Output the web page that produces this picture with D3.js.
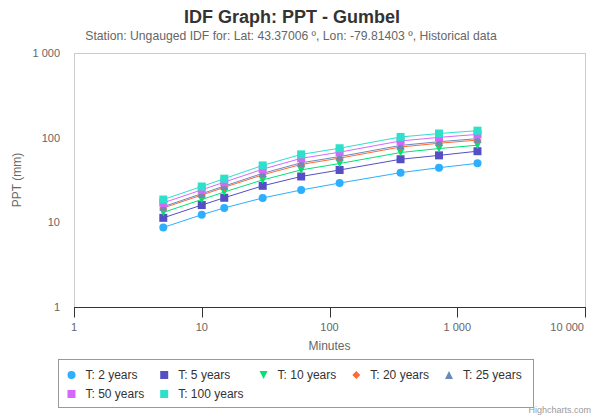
<!DOCTYPE html>
<html>
<head>
<meta charset="utf-8">
<script src="https://cdn.jsdelivr.net/npm/d3@7"></script>
<style>
  body { margin: 0; background: #fff; }
  svg { font-family: "Liberation Sans", Arial, Helvetica, sans-serif; }
</style>
</head>
<body>
<div class="chart"></div>
<script>
var svgWidth = 594;
var svgHeight = 416;

// durations in minutes
var durations = [5, 10, 15, 30, 60, 120, 360, 720, 1440];

// depth (mm) for each return period
var t2   = [8.7, 12.3, 14.8, 19.4, 24.1, 29.1, 38.6, 44.2, 49.8];
var t5   = [11.3, 16.0, 19.5, 27.0, 34.8, 41.5, 55.6, 61.8, 69.2];
var t10  = [13.1, 18.6, 22.8, 31.7, 41.6, 49.5, 66.8, 74.4, 81.5];
var t20  = [14.8, 21.0, 25.9, 36.4, 48.3, 57.3, 77.6, 85.9, 93.6];
var t25  = [15.3, 21.8, 26.8, 37.9, 50.5, 59.8, 81.0, 89.6, 97.4];
var t50  = [17.0, 24.2, 29.8, 42.4, 57.0, 67.4, 91.5, 100.8, 109.3];
var t100 = [18.6, 26.5, 32.8, 47.0, 63.5, 75.0, 102.0, 112.0, 121.0];

var seriesNames = ["T: 2 years", "T: 5 years", "T: 10 years", "T: 20 years", "T: 25 years", "T: 50 years", "T: 100 years"];
var seriesColors = ["#2caffe", "#544fc5", "#00e272", "#fe6a35", "#6b8abc", "#d568fb", "#2ee0ca"];
var seriesSymbols = ["circle", "square", "triangle-down", "diamond", "triangle", "square", "square"];
var seriesValues = [t2, t5, t10, t20, t25, t50, t100];

var xTicks = [1, 10, 100, 1000, 10000];
var yTicks = [1, 10, 100, 1000];

var plot = {left: 74, right: 585, top: 53, bottom: 307};

var fmt = function(v) { return d3.format(",")(v).replace(/,/g, " "); };

var svg = d3.select(".chart")
  .append("svg")
  .attr("width", svgWidth)
  .attr("height", svgHeight);

var xScale = d3.scaleLog().domain([1, 10000]).range([plot.left, plot.right]);
var yScale = d3.scaleLog().domain([1, 1000]).range([plot.bottom, plot.top]);

// titles
svg.append("text")
  .attr("x", 292).attr("y", 23)
  .attr("text-anchor", "middle")
  .attr("font-size", 18).attr("font-weight", "bold")
  .attr("fill", "#333")
  .text("IDF Graph: PPT - Gumbel");

svg.append("text")
  .attr("x", 291).attr("y", 40)
  .attr("text-anchor", "middle")
  .attr("font-size", 12.2)
  .attr("fill", "#666")
  .text("Station: Ungauged IDF for: Lat: 43.37006 º, Lon: -79.81403 º, Historical data");

// plot border
svg.append("rect")
  .attr("x", plot.left + 0.5).attr("y", plot.top + 0.5)
  .attr("width", plot.right - plot.left)
  .attr("height", plot.bottom - plot.top)
  .attr("fill", "none")
  .attr("stroke", "#cccccc");

// x axis
var xAxis = svg.append("g").attr("transform", "translate(0," + (plot.bottom + 0.5) + ")");
xAxis.append("line")
  .attr("x1", plot.left).attr("x2", plot.right + 1)
  .attr("stroke", "#333");
xAxis.selectAll("line.tick")
  .data(xTicks)
  .enter()
  .append("line")
  .attr("class", "tick")
  .attr("x1", d => Math.round(xScale(d)) + 0.5)
  .attr("x2", d => Math.round(xScale(d)) + 0.5)
  .attr("y1", 0).attr("y2", 10)
  .attr("stroke", "#333");
xAxis.selectAll("text")
  .data(xTicks)
  .enter()
  .append("text")
  .attr("x", (d, i) => i == xTicks.length - 1 ? xScale(d) - 1 : xScale(d))
  .attr("y", 23.5)
  .attr("text-anchor", (d, i) => i == xTicks.length - 1 ? "end" : "middle")
  .attr("font-size", 11)
  .attr("fill", "#666")
  .text(d => fmt(d));

svg.append("text")
  .attr("x", (plot.left + plot.right) / 2).attr("y", 350)
  .attr("text-anchor", "middle")
  .attr("font-size", 12)
  .attr("fill", "#666")
  .text("Minutes");

// y axis labels
svg.append("g").selectAll("text")
  .data(yTicks)
  .enter()
  .append("text")
  .attr("x", 60)
  .attr("y", d => yScale(d) + 4)
  .attr("text-anchor", "end")
  .attr("font-size", 11)
  .attr("fill", "#666")
  .text(d => fmt(d));

svg.append("text")
  .attr("transform", "translate(21," + ((plot.top + plot.bottom) / 2) + ") rotate(-90)")
  .attr("text-anchor", "middle")
  .attr("font-size", 12)
  .attr("fill", "#666")
  .text("PPT (mm)");

function symbolPath(type, cx, cy, r) {
  if (type == "square") {
    return "M" + (cx - r) + "," + (cy - r) + "h" + 2 * r + "v" + 2 * r + "h" + (-2 * r) + "Z";
  }
  if (type == "diamond") {
    return "M" + cx + "," + (cy - r) + "L" + (cx + r) + "," + cy + "L" + cx + "," + (cy + r) + "L" + (cx - r) + "," + cy + "Z";
  }
  if (type == "triangle") {
    return "M" + cx + "," + (cy - r) + "L" + (cx + r) + "," + (cy + r) + "L" + (cx - r) + "," + (cy + r) + "Z";
  }
  if (type == "triangle-down") {
    return "M" + (cx - r) + "," + (cy - r) + "L" + (cx + r) + "," + (cy - r) + "L" + cx + "," + (cy + r) + "Z";
  }
  return "M" + (cx - r) + "," + cy + "a" + r + "," + r + " 0 1,0 " + 2 * r + ",0a" + r + "," + r + " 0 1,0 " + (-2 * r) + ",0Z";
}

var line = d3.line()
  .x(d => xScale(d[0]))
  .y(d => yScale(d[1]));

var chartGroup = svg.append("g");

seriesValues.forEach(function(vals, s) {
  var pts = durations.map((d, i) => [d, vals[i]]);
  var g = chartGroup.append("g");
  g.append("path")
    .attr("d", line(pts))
    .attr("fill", "none")
    .attr("stroke", seriesColors[s])
    .attr("stroke-width", 1);
  g.selectAll("path.pt")
    .data(pts)
    .enter()
    .append("path")
    .attr("class", "pt")
    .attr("d", d => symbolPath(seriesSymbols[s], xScale(d[0]), yScale(d[1]), 4))
    .attr("fill", seriesColors[s]);
});

// legend (columns aligned, 5 per row)
var legend = svg.append("g");
legend.append("rect")
  .attr("x", 58.5).attr("y", 359.5)
  .attr("width", 475).attr("height", 48)
  .attr("fill", "none")
  .attr("stroke", "#999");

var items = legend.selectAll("g.item")
  .data(seriesNames)
  .enter()
  .append("g")
  .attr("class", "item");

items.append("path")
  .attr("d", (d, i) => symbolPath(seriesSymbols[i], 0, 0, 4))
  .attr("fill", (d, i) => seriesColors[i]);

items.append("text")
  .attr("x", 14).attr("y", 4)
  .attr("font-size", 12)
  .attr("fill", "#333")
  .text(d => d);

var colW = [];
items.each(function(d, i) {
  var w = d3.select(this).select("text").node().getComputedTextLength();
  var c = i % 5;
  colW[c] = Math.max(colW[c] || 0, w);
});
var colX = [71.5];
for (var c = 1; c < 5; c++) colX[c] = colX[c - 1] + 14 + colW[c - 1] + 20;

items.attr("transform", (d, i) => "translate(" + colX[i % 5] + "," + (375 + Math.floor(i / 5) * 19) + ")");

svg.append("text")
  .attr("x", 591).attr("y", 413)
  .attr("text-anchor", "end")
  .attr("font-size", 9)
  .attr("fill", "#999")
  .text("Highcharts.com");
</script>
</body>
</html>
